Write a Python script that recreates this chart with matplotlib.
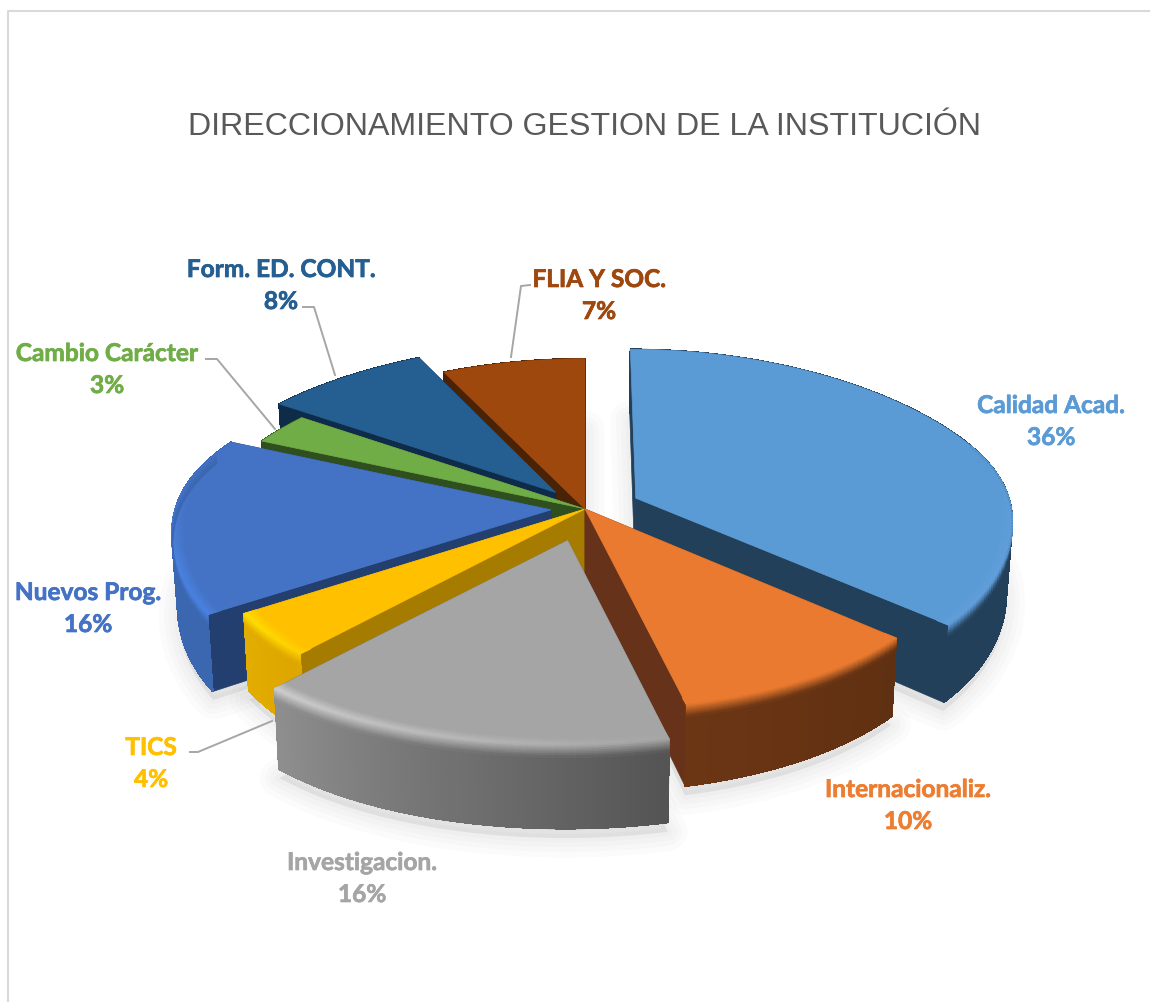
import numpy as np
import matplotlib
matplotlib.use("Agg")
import matplotlib.pyplot as plt
import matplotlib.patheffects as pe
from matplotlib.collections import PolyCollection
from matplotlib.colors import to_rgb

# datos del grafico
categories = ['Calidad Acad.', 'Internacionaliz.', 'Investigacion.', 'TICS',
              'Nuevos Prog.', 'Cambio Carácter', 'Form. ED. CONT.', 'FLIA Y SOC.']
values = [36, 10, 16, 4, 16, 3, 8, 7]
title = 'DIRECCIONAMIENTO GESTION DE LA INSTITUCIÓN'

explode = [0.15, 0.0, 0.175, 0.0, 0.09, 0.005, 0.125, 0.0]
draw_order = [7, 6, 5, 0, 4, 3, 1, 2]

top_colors = ['#5B9BD5', '#E97A2F', '#A5A5A5', '#FFC000', '#4472C4', '#70AD47', '#255E91', '#9E480E']
rim_start = ['#5B9BD5', '#E97A2F', '#A5A5A5', '#FFD000', '#4A82E0', '#70AD47', '#255E91', '#9E480E']
rim_end = ['#629FDC', '#E97A2F', '#CFCFCF', '#FFE000', '#4A82E0', '#70AD47', '#255E91', '#9E480E']
wall_start = ['#22405A', '#5F3012', '#545454', '#DDA600', '#3B66B0', '#2F4F1E', '#0F2B4A', '#4A2206']
wall_end = ['#22405A', '#6C3614', '#8E8E8E', '#E3AC00', '#3B66B0', '#2F4F1E', '#0F2B4A', '#4A2206']
side_colors = ['#22405A', '#66331A', '#545454', '#A67C00', '#223F70', '#2F4F1E', '#0F2B4A', '#4A2206']
text_colors = ['#5B9BD5', '#ED7D31', '#A5A5A5', '#FFC000', '#4472C4', '#70AD47', '#255E91', '#9E480E']

label_pos = [(1051, 404), (908, 788), (362, 861), (151, 746),
             (88, 591), (107, 352), (281, 268), (599, 278)]
leaders = [[(206, 360), (217, 360), (275, 430)],
           [(303, 308), (314, 308), (335, 376)],
           [(530, 286), (521, 287), (511, 358)],
           [(190, 753), (198, 753), (272, 722)]]

CX, CY = 585, 510
RX = 376
PX = 0.12
DEPTH = 72
ROT = np.radians(0.6)


def project(theta, r, expl, mid, z=0.0):
    u = r * np.sin(theta) + expl * np.sin(mid)
    v = -r * np.cos(theta) - expl * np.cos(mid)
    sx = 1 / (1 - PX * v)
    # la parte delantera se ve mas abierta que la de atras
    ry = 176 + 26 * np.tanh(2.5 * v)
    # la base se estrecha un poco
    shrink = 1 - 0.014 * z / DEPTH
    return CX + RX * u * sx * shrink, CY + ry * v + z * sx


def mix(a, b, t):
    a, b = np.array(to_rgb(a)), np.array(to_rgb(b))
    return tuple(a + (b - a) * t)


def wedge_outline(t0, t1, e, mid, r=1.0, z=0.0):
    th = np.linspace(t0, t1, 60)
    x, y = project(th, r, e, mid, z)
    ax_, ay = project(mid, 0.0, e, mid, z)
    return np.column_stack([np.r_[ax_, x], np.r_[ay, y]])


def radial_wall(th, e, mid):
    tx, ty = project(th, 1.0, e, mid)
    bx, by = project(th, 1.0, e, mid, DEPTH)
    ax_, ay = project(mid, 0.0, e, mid)
    cx, cy = project(mid, 0.0, e, mid, DEPTH)
    return [(ax_, ay), (tx, ty), (bx, by), (cx, cy)]


fig = plt.figure(figsize=(11.5, 10.03), dpi=100)
ax = fig.add_axes([0, 0, 1, 1])
ax.set_xlim(0, 1150)
ax.set_ylim(1003, 0)
ax.axis('off')

# marco
ax.plot([8, 8, 1150], [1003, 12, 12], color='#D9D9D9', lw=1.5, zorder=1)

ax.text(584.5, 126.5, title, ha='center', va='center', fontsize=23.1,
        family='Liberation Sans', color='#595959')

edges = np.radians(np.cumsum([0] + values) * 360 / sum(values))
edges[1:-1] += ROT

# sombra suave
for i in range(len(values)):
    mid = (edges[i] + edges[i + 1]) / 2
    pts = wedge_outline(edges[i], edges[i + 1], explode[i], mid, z=DEPTH + 8)
    for lw in [28, 20, 13, 6]:
        ax.fill(pts[:, 0], pts[:, 1], fc=(0, 0, 0, 0.016), ec=(0, 0, 0, 0.016),
                lw=lw, zorder=2, joinstyle='round')

z = 3
for i in draw_order:
    t0, t1 = edges[i], edges[i + 1]
    mid = (t0 + t1) / 2
    e = explode[i]

    # paredes radiales
    for th in (t0, t1):
        ax.add_patch(plt.Polygon(radial_wall(th, e, mid), fc=side_colors[i],
                                 ec=side_colors[i], lw=0.5, zorder=z))
    z += 1

    n = max(int((t1 - t0) * 60), 8)
    th = np.linspace(t0, t1, n + 1)

    # pared exterior: base suavizada y degradado encima
    tx, ty = project(th, 1.0, e, mid)
    bx, by = project(th[::-1], 1.0, e, mid, DEPTH)
    base = np.column_stack([np.r_[tx, bx], np.r_[ty, by]])
    base_col = mix(wall_start[i], wall_end[i], 0.5)
    ax.add_patch(plt.Polygon(base, fc=base_col, ec=base_col, lw=0.8, zorder=z))
    z += 1

    polys, cols = [], []
    for k in range(n):
        wall = mix(wall_start[i], wall_end[i], (k + 0.5) / n)
        a = project(th[k], 1.0, e, mid)
        b = project(th[k + 1], 1.0, e, mid)
        c = project(th[k + 1], 1.0, e, mid, DEPTH)
        d = project(th[k], 1.0, e, mid, DEPTH)
        polys.append([a, b, c, d])
        cols.append(wall)
    ax.add_collection(PolyCollection(polys, facecolors=cols, edgecolors=cols,
                                     linewidths=0.5, antialiaseds=False, zorder=z))
    z += 1

    # cara superior
    ax.add_patch(plt.Polygon(wedge_outline(t0, t1, e, mid), fc=top_colors[i],
                             ec=top_colors[i], lw=0.5, zorder=z))
    z += 1

    # bisel del borde
    bevel = [(r, 0.0) for r in np.linspace(0.965, 1.0, 8)] + \
            [(1.0, DEPTH * a) for a in np.linspace(0.0, 0.15, 8)][1:]
    polys, cols = [], []
    for k in range(n):
        frac = (k + 0.5) / n
        wall = mix(wall_start[i], wall_end[i], frac)
        tm = (th[k] + th[k + 1]) / 2
        front = np.clip(-np.cos(tm) + 0.25, 0, 0.5) / 0.5
        rim = mix(top_colors[i], mix(rim_start[i], rim_end[i], frac), front)
        for m in range(len(bevel) - 1):
            r0, z0 = bevel[m]
            r1, z1 = bevel[m + 1]
            s = (m + 0.5) / (len(bevel) - 1)
            if s < 0.5:
                c = mix(top_colors[i], rim, s * 2)
            else:
                c = mix(rim, wall, (s - 0.5) * 2)
            polys.append([project(th[k], r0, e, mid, z0),
                          project(th[k + 1], r0, e, mid, z0),
                          project(th[k + 1], r1, e, mid, z1),
                          project(th[k], r1, e, mid, z1)])
            cols.append(c)
    # solo se dibuja donde el borde mira al frente
    keep = [j for j, p in enumerate(polys)
            if -np.cos(th[j // (len(bevel) - 1)]) > -0.35]
    ax.add_collection(PolyCollection([polys[j] for j in keep],
                                     facecolors=[cols[j] for j in keep],
                                     edgecolors=[cols[j] for j in keep],
                                     linewidths=0.8, zorder=z))
    z += 1

# lineas guia
for line in leaders:
    xs, ys = zip(*line)
    ax.plot(xs, ys, color='#A6A6A6', lw=1.4, zorder=z)

# etiquetas
for name, val, pos, col in zip(categories, values, label_pos, text_colors):
    for txt, dy in ((name, 0), (f'{val}%', 32)):
        t = ax.text(pos[0], pos[1] + dy + 2.5, txt, ha='center', va='center', fontsize=17.6,
                    family='Lato', weight='bold', color=col, zorder=z + 1)
        t.set_path_effects([pe.withStroke(linewidth=0.5, foreground=col)])

fig.savefig('out.png', dpi=100)
plt.close(fig)
